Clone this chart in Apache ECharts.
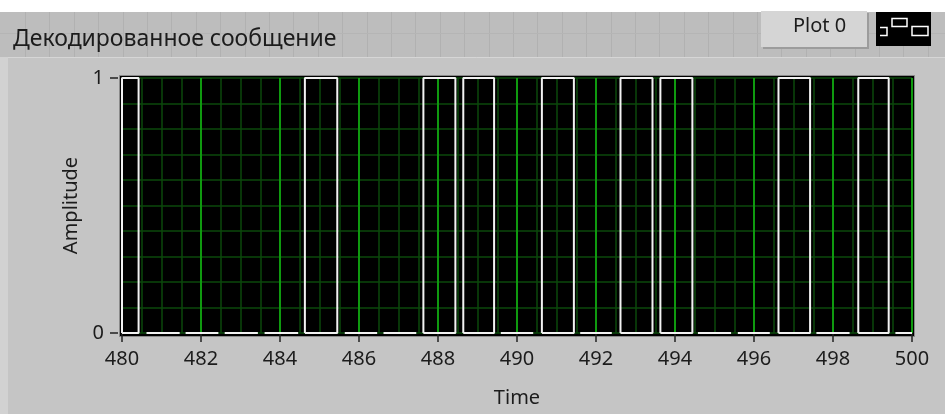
<!DOCTYPE html>
<html>
<head>
<meta charset="utf-8">
<script src="https://cdn.jsdelivr.net/npm/echarts@6/dist/echarts.min.js"></script>
<style>
html,body{margin:0;padding:0;background:#c5c5c5;}
#chart{width:945px;height:414px;}
</style>
</head>
<body>
<div id="chart"></div>
<script>
// Data: each decoded bit occupies [bitStart, bitEnd] on the Time axis
const bitStart = [480.00, 480.62, 481.61, 482.60, 483.61, 484.63, 485.64, 486.62, 487.63, 488.64, 489.59, 490.63, 491.60, 492.62, 493.63, 494.58, 495.59, 496.62, 497.58, 498.64, 499.58];
const bitEnd   = [480.42, 481.46, 482.44, 483.44, 484.46, 485.45, 486.46, 487.45, 488.44, 489.42, 490.41, 491.44, 492.40, 493.43, 494.44, 495.42, 496.40, 497.42, 498.42, 499.41, 500.00];
const bitValue = [1, 0, 0, 0, 0, 1, 0, 0, 1, 1, 0, 1, 0, 1, 1, 0, 0, 1, 0, 1, 0];

const xMin = 480, xMax = 500, xStep = 2;
const yMin = 0, yMax = 1, yStep = 1;

const titleText = 'Декодированное сообщение';
const plotName = 'Plot 0';
const xName = 'Time';
const yName = 'Amplitude';

// Build the polyline for the series (breaks between bits)
const signal = [];
for (let i = 0; i < bitValue.length; i++) {
  const s = bitStart[i], e = bitEnd[i], v = bitValue[i];
  if (v) {
    signal.push([s, 0], [s, v], [e, v], [e, 0], [s, 0]);
  } else {
    signal.push([s, 0], [e, 0]);
  }
  signal.push([e, '-']);
}

const FONT = 'Noto Sans';
const L = 122, R = 912, T = 78, B = 333;

const bgEls = [];
bgEls.push({type:'rect', shape:{x:0,y:0,width:945,height:414}, style:{fill:'#c5c5c5'}});
bgEls.push({type:'rect', shape:{x:0,y:0,width:945,height:12}, style:{fill:'#ffffff'}});
bgEls.push({type:'rect', shape:{x:0,y:12,width:945,height:45}, style:{fill:'#bdbdbd'}});
for (let x = 25; x < 945; x += 24.4) {
  bgEls.push({type:'line', shape:{x1:Math.round(x)+0.5,y1:12,x2:Math.round(x)+0.5,y2:57}, style:{stroke:'#b1b1b1',lineWidth:1}});
}
bgEls.push({type:'line', shape:{x1:0,y1:33.5,x2:945,y2:33.5}, style:{stroke:'#b5b5b5',lineWidth:1}});
bgEls.push({type:'rect', shape:{x:0,y:57,width:8,height:357}, style:{fill:'#d2d2d2'}});
bgEls.push({type:'line', shape:{x1:8,y1:57.5,x2:945,y2:57.5}, style:{stroke:'#d6d6d6',lineWidth:1}});
// plot frame
bgEls.push({type:'rect', shape:{x:119.5,y:75.5,width:795,height:261}, style:{fill:'#000',stroke:'#8a8a8a',lineWidth:1}});

const chart = echarts.init(document.getElementById('chart'), null, {renderer:'canvas'});
chart.setOption({
  animation: false,
  backgroundColor: '#c5c5c5',
  title: {
    text: titleText, left: 8, top: 23,
    textStyle: {fontFamily: FONT, fontSize: 23, fontWeight: 'normal', color: '#1c1c1c'}
  },
  grid: {left: L, right: 945 - R, top: T, bottom: 414 - B, show: true, backgroundColor: '#000', borderWidth: 0},
  xAxis: {
    type: 'value', min: xMin, max: xMax, interval: xStep,
    offset: 4,
    name: xName, nameLocation: 'middle', nameGap: 51,
    nameTextStyle: {fontFamily: FONT, fontSize: 20, color: '#1c1c1c'},
    axisLine: {show: false},
    axisTick: {show: true, length: 9, lineStyle: {color: '#222', width: 1.5}},
    axisLabel: {margin: 12, fontFamily: FONT, fontSize: 20, color: '#1c1c1c'},
    splitLine: {show: true, lineStyle: {color: '#0f9a0f', width: 2}},
    minorTick: {show: false, splitNumber: 4},
    minorSplitLine: {show: true, lineStyle: {color: '#0b480b', width: 1.5}}
  },
  yAxis: {
    type: 'value', min: yMin, max: yMax, interval: yStep,
    offset: 4,
    name: yName, nameLocation: 'middle', nameGap: 36,
    nameTextStyle: {fontFamily: FONT, fontSize: 20, color: '#1c1c1c'},
    axisLine: {show: false},
    axisTick: {show: true, length: 8, lineStyle: {color: '#222', width: 1.5}},
    axisLabel: {margin: 14, fontFamily: FONT, fontSize: 20, color: '#1c1c1c'},
    splitLine: {show: true, lineStyle: {color: '#0b480b', width: 1.5}},
    minorTick: {show: false, splitNumber: 10},
    minorSplitLine: {show: true, lineStyle: {color: '#0b480b', width: 1.5}}
  },
  graphic: [
    {type: 'group', z: -10, children: bgEls},
    {type: 'group', z: 100, children: [
      {type:'rect', shape:{x:763,y:13,width:106,height:36}, style:{fill:'#9c9c9c'}},
      {type:'rect', shape:{x:761,y:11,width:106,height:36}, style:{fill:'#d5d5d5'}},
      {type:'text', left: 793, top: 16, style:{text: plotName, font: '20px "Noto Sans"', fill:'#1c1c1c'}},
      {type:'rect', shape:{x:876,y:12,width:55,height:34}, style:{fill:'#000'}},
      {type:'polyline', shape:{points:[[880,27.5],[887,27.5],[887,35.5],[880,35.5]]}, style:{stroke:'#fff',lineWidth:1.5,fill:null}},
      {type:'rect', shape:{x:892,y:18.5,width:15,height:8}, style:{stroke:'#fff',lineWidth:1.5,fill:null}},
      {type:'rect', shape:{x:912,y:26.5,width:16,height:9}, style:{stroke:'#fff',lineWidth:1.5,fill:null}}
    ]}
  ],
  series: [{
    name: plotName,
    type: 'line',
    data: signal,
    showSymbol: false,
    symbol: 'none',
    clip: false,
    connectNulls: false,
    lineStyle: {color: '#f2f2f2', width: 2},
    z: 5
  }]
});
</script>
</body>
</html>
